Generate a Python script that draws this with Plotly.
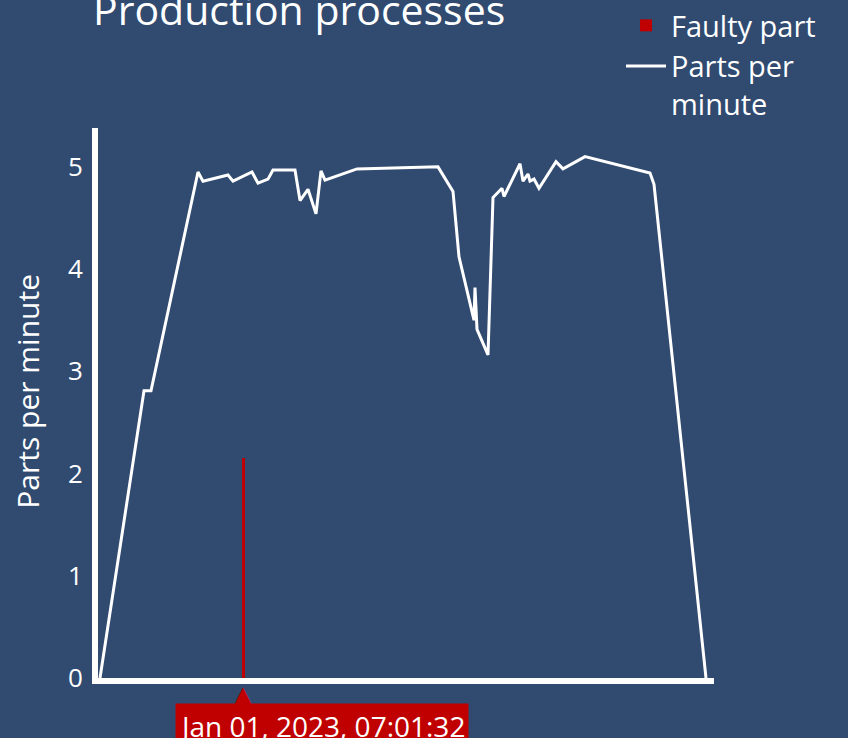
import plotly.graph_objects as go

# ---- data ----
times = [
    "2023-01-01 06:59:09", "2023-01-01 06:59:53", "2023-01-01 07:00:00", "2023-01-01 07:00:47",
    "2023-01-01 07:00:52", "2023-01-01 07:01:17", "2023-01-01 07:01:22", "2023-01-01 07:01:41",
    "2023-01-01 07:01:47", "2023-01-01 07:01:57", "2023-01-01 07:02:02", "2023-01-01 07:02:24",
    "2023-01-01 07:02:29", "2023-01-01 07:02:37", "2023-01-01 07:02:45", "2023-01-01 07:02:50",
    "2023-01-01 07:02:54", "2023-01-01 07:03:26", "2023-01-01 07:04:47", "2023-01-01 07:05:02",
    "2023-01-01 07:05:08", "2023-01-01 07:05:23", "2023-01-01 07:05:24", "2023-01-01 07:05:26",
    "2023-01-01 07:05:37", "2023-01-01 07:05:42", "2023-01-01 07:05:51", "2023-01-01 07:05:53",
    "2023-01-01 07:06:09", "2023-01-01 07:06:12", "2023-01-01 07:06:17", "2023-01-01 07:06:19",
    "2023-01-01 07:06:23", "2023-01-01 07:06:28", "2023-01-01 07:06:45", "2023-01-01 07:06:52",
    "2023-01-01 07:07:14", "2023-01-01 07:08:19", "2023-01-01 07:08:23", "2023-01-01 07:09:15",
]
parts_per_minute = [
    0, 2.81, 2.81, 4.95, 4.86, 4.92, 4.86, 4.95, 4.84, 4.88, 4.97, 4.97,
    4.67, 4.78, 4.54, 4.96, 4.87, 4.98, 5.00, 4.76, 4.12, 3.50, 3.82, 3.41,
    3.16, 4.70, 4.79, 4.71, 5.03, 4.86, 4.93, 4.86, 4.88, 4.79, 5.05, 4.98,
    5.10, 4.94, 4.83, 0,
]
faulty_times = ["2023-01-01 07:01:32"]
faulty_values = [2.15]
faulty_label = "Jan 01, 2023, 07:01:32"
y_title = "Parts per minute"
y_ticks = [0, 1, 2, 3, 4, 5]
x_range = ["2023-01-01 06:59:07", "2023-01-01 07:09:23"]
y_range = [0, 5.38]

BG = "#304a70"
RED = "#c00000"
FONT = "Open Sans"

fig = go.Figure()
fig.add_trace(go.Bar(
    x=faulty_times, y=faulty_values, name="Faulty part",
    marker=dict(color=RED, line=dict(width=0)), width=3000,
))
fig.add_trace(go.Scatter(
    x=times, y=parts_per_minute, mode="lines", name="Parts per<br>minute",
    line=dict(color="white", width=3),
))

# static version of the x hover label: pointer first, then the box
fig.add_annotation(
    x=faulty_times[0], xref="x", y=0.0, yref="paper",
    text="▲", showarrow=False, xanchor="center", yanchor="top",
    font=dict(family="DejaVu Sans", size=26, color=RED),
)
fig.add_annotation(
    x=faulty_times[0], xref="x", y=-0.045, yref="paper",
    text=faulty_label, showarrow=False, xanchor="left", yanchor="top",
    xshift=-68, bgcolor=RED, borderpad=3,
    font=dict(family=FONT, size=28, color="white"),
)
# y-axis title
fig.add_annotation(
    x=-0.114, xref="paper", y=0.522, yref="paper",
    text=y_title, textangle=-90, showarrow=False,
    xanchor="center", yanchor="middle",
    font=dict(family=FONT, size=30, color="white"),
)

fig.update_layout(
    width=848, height=738,
    margin=dict(l=98, r=134, t=128, b=60, autoexpand=False),
    paper_bgcolor=BG, plot_bgcolor=BG,
    font=dict(family=FONT, color="white", size=26),
    title=dict(text="Production processes", x=0.1097, xanchor="left",
               y=0.986, yanchor="middle", yref="container",
               font=dict(size=41, color="white", family=FONT)),
    legend=dict(x=0.849, xanchor="left", y=1.0, yanchor="top", yref="container",
                font=dict(size=29, color="white", family=FONT),
                bgcolor="rgba(0,0,0,0)", itemwidth=40, valign="top"),
    bargap=0,
    showlegend=True,
)
fig.update_xaxes(
    type="date", range=x_range, showgrid=False, zeroline=False,
    showline=True, linecolor="white", linewidth=6, showticklabels=False,
    ticks="",
)
fig.update_yaxes(
    range=y_range, tickvals=y_ticks, showgrid=False, zeroline=False,
    showline=True, linecolor="white", linewidth=6, ticks="",
    tickfont=dict(size=26, color="white"), ticklabelstandoff=4,
)

fig.write_html(
    "out.html",
    config={"displayModeBar": False},
    post_script="document.body.style.margin='0';document.body.style.background='%s';" % BG,
)
